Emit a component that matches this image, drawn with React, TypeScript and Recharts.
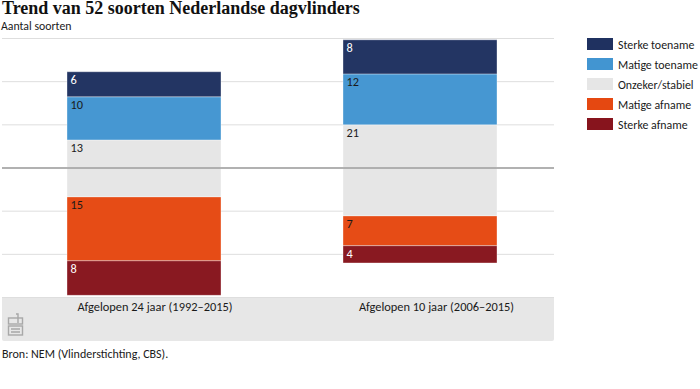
import React from "react";
import { BarChart, Bar, XAxis, YAxis, CartesianGrid, ReferenceLine, LabelList } from "recharts";

const categories = ["Afgelopen 24 jaar (1992–2015)", "Afgelopen 10 jaar (2006–2015)"];
const sterkeToename = [5.8, 7.9];
const matigeToename = [10, 11.8];
const onzekerBoven = [6.5, 10];
const onzekerOnder = [-6.7, -11.1];
const matigeAfname = [-14.8, -6.9];
const sterkeAfname = [-8, -4];
const onzekerLabels = [13, 21];
const yTicks = [-30, -20, -10, 0, 10, 20, 30];
const legendNames = ["Sterke toename", "Matige toename", "Onzeker/stabiel", "Matige afname", "Sterke afname"];
const legendColors = ["#1F3160", "#4295D1", "#E6E6E6", "#E54811", "#87141D"];

const data = categories.map((name, i) => ({
  name,
  onzekerBoven: onzekerBoven[i],
  matigeToename: matigeToename[i],
  sterkeToename: sterkeToename[i],
  onzekerOnder: onzekerOnder[i],
  matigeAfname: matigeAfname[i],
  sterkeAfname: sterkeAfname[i],
  onzekerLabel: onzekerLabels[i],
}));

const FONT = "Carlito, Lato, 'Open Sans', sans-serif";

const segmentLabel = (color: string, fmt?: (index: number) => string) => (props: any) => {
  const top = Math.min(props.y, props.y + props.height);
  const text = fmt ? fmt(props.index) : String(Math.abs(Math.round(Number(props.value))));
  return (
    <text x={props.x + 3.5} y={top + 12} fontSize={12.3} fontFamily={FONT} fill={color}>
      {text}
    </text>
  );
};

const GridLine = (props: any) =>
  props.y1 > 168 && props.y1 < 169 ? <g /> : (
    <line x1={2} x2={554} y1={props.y1} y2={props.y2} stroke="#DEDEDE" strokeWidth={1} />
  );

const ZeroLine = (props: any) => (
  <line x1={2} x2={554} y1={props.y1 ?? props.viewBox?.y} y2={props.y2 ?? props.viewBox?.y} stroke="#757575" strokeWidth={1.1} />
);

const CategoryTick = (props: any) => (
  <text x={props.x + (props.index === 0 ? 11 : 16.5)} y={props.y + 5} textAnchor="middle" fontSize={12.4} fontFamily={FONT} fill="#1a1a1a">
    {props.payload.value}
  </text>
);

const barEdge = { stroke: "#FFFFFF", strokeOpacity: 0.35, strokeWidth: 1, fillOpacity: 0.98 };

export default function App() {
  return (
    <div style={{ position: "fixed", left: 0, top: 0, width: 700, height: 389, background: "#fff", overflow: "hidden", fontFamily: FONT }}>
      <div style={{ position: "absolute", left: 2, top: 0, fontFamily: "'Liberation Serif', serif", fontWeight: 700, fontSize: 18, lineHeight: "17px", color: "#111", whiteSpace: "nowrap" }}>
        Trend van 52 soorten Nederlandse dagvlinders
      </div>
      <div style={{ position: "absolute", left: 1, top: 19, fontSize: 11.8, lineHeight: "15px", color: "#1a1a1a" }}>Aantal soorten</div>
      <div style={{ position: "absolute", left: 2, top: 297, width: 552, height: 44, background: "#E7E7E7", borderTop: "1px solid #D5D5D5", boxSizing: "border-box", borderRadius: "0 0 2px 2px" }} />
      <svg style={{ position: "absolute", left: 7, top: 312 }} width={18} height={25} viewBox="0 0 18 25">
        <g fill="none" stroke="#A8A8A8" strokeWidth={1.4}>
          <rect x={1.5} y={14} width={14} height={9} />
          <path d="M4 17h9M4 20h9" />
          <rect x={1.5} y={6} width={14} height={6} />
          <path d="M9 2h2v9" />
        </g>
      </svg>
      <div style={{ position: "absolute", left: 2, top: 347, fontSize: 12, lineHeight: "15px", color: "#1a1a1a" }}>Bron: NEM (Vlinderstichting, CBS).</div>

      {legendNames.map((n, i) => (
        <React.Fragment key={n}>
          <div style={{ position: "absolute", left: 587, top: 38 + i * 20, width: 25.5, height: 11.5, background: legendColors[i] }} />
          <div style={{ position: "absolute", left: 618, top: 38 + i * 20, fontSize: 11.9, lineHeight: "15px", color: "#1a1a1a", whiteSpace: "nowrap" }}>{n}</div>
        </React.Fragment>
      ))}

      <div style={{ position: "absolute", left: 0, top: 0 }}>
        <BarChart
          width={700}
          height={389}
          data={data}
          stackOffset="sign"
          barSize={154}
          margin={{ top: 38.5, right: 142, bottom: 61.5, left: 6 }}
          style={{ background: "transparent" }}
        >
          <CartesianGrid vertical={false} horizontal={GridLine as any} />
          <XAxis dataKey="name" axisLine={false} tickLine={false} height={30} tick={CategoryTick as any} interval={0} />
          <YAxis hide width={0} domain={[-30, 30]} ticks={yTicks} type="number" allowDataOverflow />
          <Bar dataKey="onzekerBoven" stackId="a" fill={legendColors[2]} isAnimationActive={false} {...barEdge}>
            <LabelList dataKey="onzekerBoven" content={segmentLabel("#1a1a1a", (i) => String(onzekerLabels[i])) as any} />
          </Bar>
          <Bar dataKey="matigeToename" stackId="a" fill={legendColors[1]} isAnimationActive={false} {...barEdge}>
            <LabelList dataKey="matigeToename" content={segmentLabel("#1a1a1a") as any} />
          </Bar>
          <Bar dataKey="sterkeToename" stackId="a" fill={legendColors[0]} isAnimationActive={false} {...barEdge}>
            <LabelList dataKey="sterkeToename" content={segmentLabel("#FFFFFF") as any} />
          </Bar>
          <Bar dataKey="onzekerOnder" stackId="a" fill={legendColors[2]} isAnimationActive={false} {...barEdge} />
          <Bar dataKey="matigeAfname" stackId="a" fill={legendColors[3]} isAnimationActive={false} {...barEdge}>
            <LabelList dataKey="matigeAfname" content={segmentLabel("#1a1a1a") as any} />
          </Bar>
          <Bar dataKey="sterkeAfname" stackId="a" fill={legendColors[4]} isAnimationActive={false} {...barEdge}>
            <LabelList dataKey="sterkeAfname" content={segmentLabel("#FFFFFF") as any} />
          </Bar>
          <ReferenceLine y={0} shape={ZeroLine as any} />
        </BarChart>
      </div>
    </div>
  );
}
